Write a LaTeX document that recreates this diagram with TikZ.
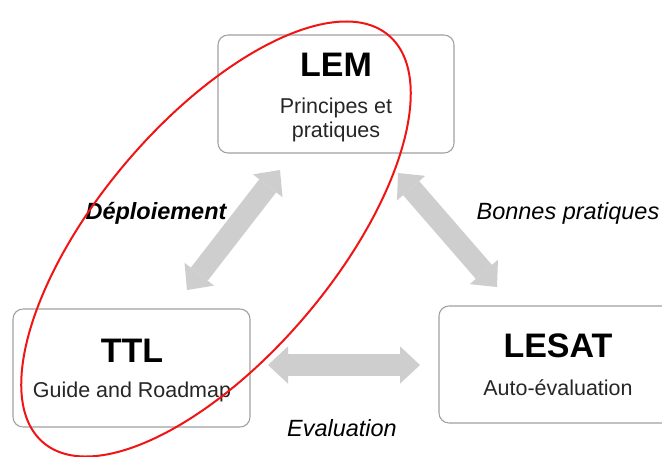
\documentclass[tikz,border=0pt]{standalone}
\usepackage{fontspec}
\setmainfont{Liberation Sans}
\usetikzlibrary{arrows.meta}
\definecolor{arrowgray}{RGB}{206,206,206}
\definecolor{boxgray}{RGB}{160,160,160}
\definecolor{ringred}{RGB}{240,20,20}
\tikzset{
  box/.style={draw=boxgray, line width=0.8pt, rounded corners=7.5pt, minimum height=88.5pt, inner sep=0pt},
  title/.style={font=\fontsize{25.5}{30}\selectfont\bfseries, inner sep=0pt},
  sub/.style={font=\fontsize{16.1}{19}\selectfont, inner sep=0pt, text=black!85},
  lbl/.style={font=\fontsize{17.6}{21}\selectfont\itshape, inner sep=0pt},
  blockarrow/.style={draw=arrowgray, line width=16pt,
    {Triangle[width=28pt,length=15pt,line width=0pt]}-{Triangle[width=28pt,length=15pt,line width=0pt]}},
}
\begin{document}
\begin{tikzpicture}[x=0.75pt,y=-0.75pt]
\useasboundingbox (0,0) rectangle (662,457);
\clip (0,0) rectangle (662,457);
\fill[white] (0,0) rectangle (662,457);
% boxes
\node[box, minimum width=177pt] (lem) at (336,94) {};
\node[box, minimum width=177.75pt] (ttl) at (131.5,368) {};
\node[box, minimum width=178.5pt, minimum height=87.75pt] (lesat) at (558,364.5) {};
% texts
\node[title] (lemt) at (336,65) {LEM};
\node[sub] (lems1) at (336,108) {Principes et};
\node[sub] (lems2) at (336,132) {pratiques};
\node[title] (ttlt) at (132,351) {TTL};
\node[sub] (ttls) at (132,392) {Guide and Roadmap};
\node[title] (lesatt) at (558,346) {LESAT};
\node[sub] (lesats) at (558,388) {Auto-évaluation};
% arrows
\coordinate (a1) at (280,170);
\coordinate (a2) at (187,290);
\coordinate (b1) at (398,173);
\coordinate (b2) at (497,287);
\coordinate (c1) at (268,365);
\coordinate (c2) at (420,365);
\draw[blockarrow] (a1) -- (a2);
\draw[blockarrow] (b1) -- (b2);
\draw[blockarrow] (c1) -- (c2);
% labels
\node[lbl, font=\fontsize{17.6}{21}\selectfont\bfseries\itshape] (dep) at (156,213) {Déploiement};
\node[lbl] (bp) at (568,213) {Bonnes pratiques};
\node[lbl] (ev) at (342,428) {Evaluation};
% red ellipse
\draw[ringred, line width=1.5pt, rotate around={49.7:(216,239)}] (216,239) ellipse [x radius=200.25pt, y radius=88.5pt];
\end{tikzpicture}
\end{document}
